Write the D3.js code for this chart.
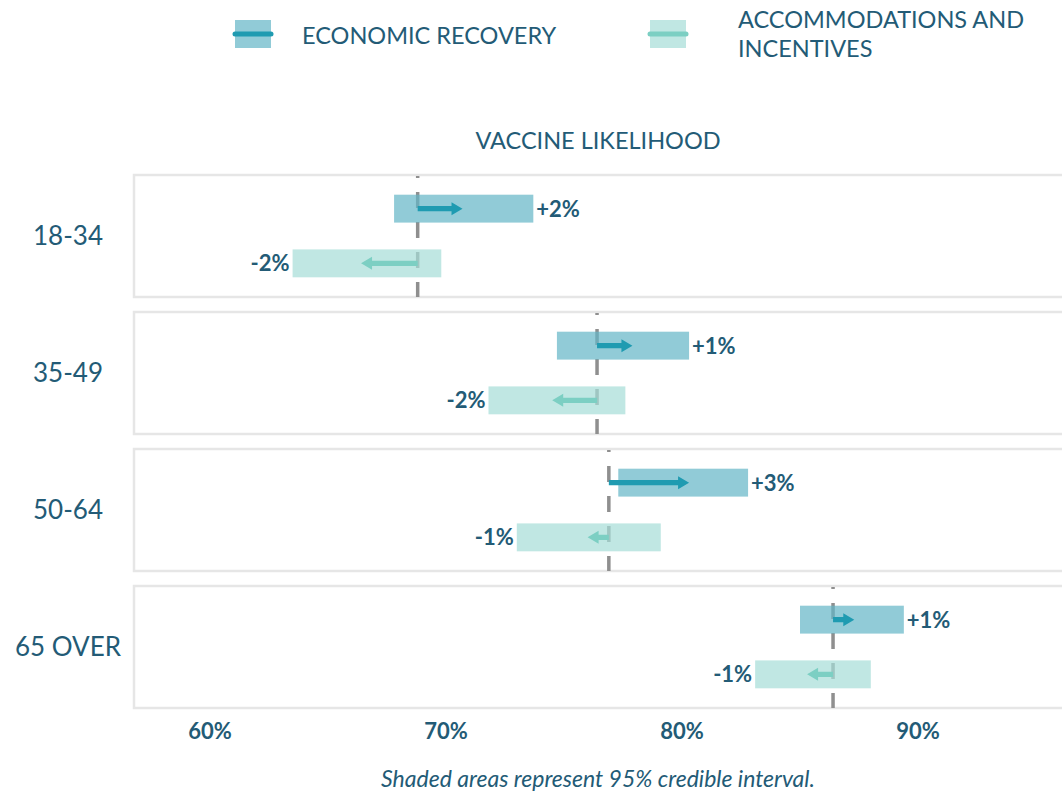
<!DOCTYPE html>
<html>
<head>
<meta charset="utf-8">
<script src="https://cdn.jsdelivr.net/npm/d3@7"></script>
<style>
  body { margin: 0; background: #fff; font-family: Lato, "Open Sans", sans-serif; }
  svg text { font-family: Lato, sans-serif; fill: #235b76; }
</style>
</head>
<body>
<div id="chart"></div>
<script>
// Age groups and estimates (vaccine likelihood, %)
const groups = ["18-34", "35-49", "50-64", "65 OVER"];
const baseline = [68.8, 76.4, 76.9, 86.4];

const econLow = [67.8, 74.7, 77.3, 85.0];
const econHigh = [73.7, 80.3, 82.8, 89.4];
const econEst = [70.7, 77.9, 80.3, 87.3];
const econLabels = ["+2%", "+1%", "+3%", "+1%"];

const accLow = [63.5, 71.8, 73.0, 83.1];
const accHigh = [69.8, 77.6, 79.1, 88.0];
const accEst = [66.4, 74.5, 76.0, 85.3];
const accLabels = ["-2%", "-2%", "-1%", "-1%"];

const ticks = [60, 70, 80, 90];
const seriesNames = ["ECONOMIC RECOVERY", "ACCOMMODATIONS AND INCENTIVES"];

const width = 1062, height = 792;
const colors = {
  econBar: "rgb(98,181,198)", econArrow: "#1f9bb1",
  accBar: "rgb(165,221,215)", accArrow: "#7ccfc3",
  text: "#235b76"
};

const svg = d3.select("#chart").append("svg")
  .attr("width", width)
  .attr("height", height);

// scales
const x = d3.scaleLinear().domain([60, 90]).range([210, 918]);
const y = d3.scaleBand().domain(groups).range([175, 708]).paddingInner(0.1095);
const inner = d3.scaleBand().domain(["econ", "acc"]).range([0, y.bandwidth()])
  .paddingInner(0.49).paddingOuter(0.36);

// rows of data
const rows = groups.map((g, i) => ({
  group: g,
  base: baseline[i],
  series: [
    {key: "econ", lo: econLow[i], hi: econHigh[i], est: econEst[i], label: econLabels[i], bar: colors.econBar, arrow: colors.econArrow},
    {key: "acc", lo: accLow[i], hi: accHigh[i], est: accEst[i], label: accLabels[i], bar: colors.accBar, arrow: colors.accArrow}
  ]
}));

// title
svg.append("text")
  .attr("x", (134 + width) / 2)
  .attr("y", 149)
  .attr("text-anchor", "middle")
  .style("font-size", "23.5px")
  .text("VACCINE LIKELIHOOD");

const panel = svg.selectAll(".panel")
  .data(rows)
  .join("g")
  .attr("class", "panel")
  .attr("transform", d => `translate(0,${y(d.group)})`);

// panel frame
panel.append("rect")
  .attr("x", 134)
  .attr("y", 0)
  .attr("width", width - 134 + 20)
  .attr("height", y.bandwidth())
  .attr("fill", "#fff")
  .attr("stroke", "#e6e6e6")
  .attr("stroke-width", 2.5);

// category labels
panel.append("text")
  .attr("x", 68)
  .attr("y", y.bandwidth() / 2)
  .attr("dy", "0.35em")
  .attr("text-anchor", "middle")
  .style("font-size", "26px")
  .text(d => d.group);

// dashed baseline
panel.append("line")
  .attr("x1", d => x(d.base))
  .attr("x2", d => x(d.base))
  .attr("y1", 1)
  .attr("y2", y.bandwidth())
  .attr("stroke", "#8f8f8f")
  .attr("stroke-width", 3.5)
  .attr("stroke-dasharray", "16,14")
  .attr("stroke-dashoffset", 14);

// interval bars
panel.selectAll(".bar")
  .data(d => d.series)
  .join("rect")
  .attr("class", "bar")
  .attr("x", d => x(d.lo))
  .attr("y", d => inner(d.key))
  .attr("width", d => x(d.hi) - x(d.lo))
  .attr("height", inner.bandwidth())
  .attr("fill", d => d.bar)
  .attr("fill-opacity", 0.7);

// arrows from baseline to estimate
function arrowPath(x0, x1, cy) {
  const dir = x1 >= x0 ? 1 : -1;
  const head = 11, hw = 6.5, sw = 2.6;
  const xb = x1 - dir * head;
  return `M${x0},${cy - sw}L${xb},${cy - sw}L${xb},${cy - hw}L${x1},${cy}` +
    `L${xb},${cy + hw}L${xb},${cy + sw}L${x0},${cy + sw}Z`;
}

panel.each(function(row) {
  d3.select(this).selectAll(".arrow")
    .data(row.series)
    .join("path")
    .attr("class", "arrow")
    .attr("d", d => arrowPath(x(row.base), x(d.est), inner(d.key) + inner.bandwidth() / 2))
    .attr("fill", d => d.arrow);
});

// value labels
panel.selectAll(".val")
  .data(d => d.series)
  .join("text")
  .attr("class", "val")
  .attr("x", d => d.key === "econ" ? x(d.hi) + 3 : x(d.lo) - 3)
  .attr("y", d => inner(d.key) + inner.bandwidth() / 2)
  .attr("dy", "0.36em")
  .attr("text-anchor", d => d.key === "econ" ? "start" : "end")
  .style("font-size", "22px")
  .style("font-weight", "bold")
  .text(d => d.label);

// x axis tick labels
svg.append("g")
  .selectAll("text")
  .data(ticks)
  .join("text")
  .attr("x", d => x(d))
  .attr("y", 739)
  .attr("text-anchor", "middle")
  .style("font-size", "22px")
  .style("font-weight", "bold")
  .text(d => d + "%");

// footnote
svg.append("text")
  .attr("x", (134 + width) / 2)
  .attr("y", 787)
  .attr("text-anchor", "middle")
  .style("font-size", "23px")
  .style("font-style", "italic")
  .text("Shaded areas represent 95% credible interval.");

// legend
const legendItems = [
  {name: seriesNames[0], bar: colors.econBar, arrow: colors.econArrow, x: 235, lines: ["ECONOMIC RECOVERY"]},
  {name: seriesNames[1], bar: colors.accBar, arrow: colors.accArrow, x: 650, lines: ["ACCOMMODATIONS AND", "INCENTIVES"]}
];
const legend = svg.selectAll(".legend")
  .data(legendItems)
  .join("g")
  .attr("class", "legend")
  .attr("transform", d => `translate(${d.x},20)`);

legend.append("rect")
  .attr("width", 36)
  .attr("height", 28)
  .attr("fill", d => d.bar)
  .attr("fill-opacity", 0.7);

legend.append("line")
  .attr("x1", 0)
  .attr("x2", 36)
  .attr("y1", 14)
  .attr("y2", 14)
  .attr("stroke", d => d.arrow)
  .attr("stroke-width", 5)
  .attr("stroke-linecap", "round");

legend.each(function(d) {
  const two = d.lines.length > 1;
  const t = d3.select(this).append("text")
    .style("font-size", "23.5px");
  d.lines.forEach((l, i) => {
    t.append("tspan")
      .attr("x", two ? 88 : 67)
      .attr("y", two ? 8 + i * 29 : 23.5)
      .text(l);
  });
});
</script>
</body>
</html>
